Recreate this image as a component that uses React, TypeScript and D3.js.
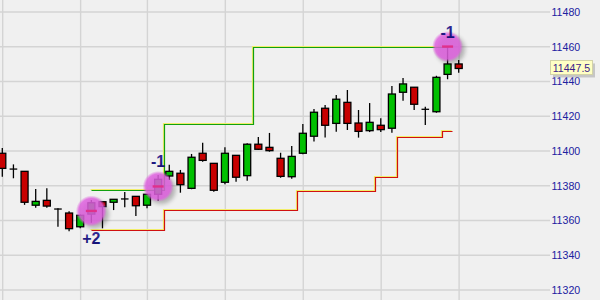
import React from 'react';
import * as d3 from 'd3';

// OHLC bars, oldest first
const opens = [
  11398.7, 11389.6, 11388.3, 11368.8, 11371.6, 11366.6, 11364.3, 11356.4, 11363.7, 11370.8,
  11370.5, 11372.4, 11373.9, 11368.8, 11375.1, 11385.6, 11387.2, 11378.5, 11398.7, 11392.9,
  11382.0, 11397.5, 11385.8, 11403.9, 11402.1, 11395.8, 11385.2, 11398.7, 11408.5, 11424.6,
  11415.9, 11428.0, 11416.1, 11411.7, 11414.8, 11413.1, 11433.8, 11436.7, 11424.0, 11422.6,
  11444.1, 11450.1,
];
const highs = [
  11401.7, 11392.3, 11388.5, 11378.1, 11378.5, 11367.0, 11365.3, 11363.5, 11371.8, 11371.0,
  11372.2, 11376.4, 11374.0, 11375.1, 11386.2, 11392.1, 11389.1, 11398.3, 11404.8, 11393.0,
  11402.1, 11397.6, 11404.4, 11408.1, 11410.4, 11399.0, 11402.9, 11415.5, 11424.2, 11426.5,
  11432.2, 11435.1, 11423.6, 11427.6, 11418.8, 11437.4, 11442.0, 11436.8, 11425.5, 11443.3,
  11460.4, 11452.4,
];
const lows = [
  11385.2, 11384.3, 11369.0, 11367.4, 11367.4, 11356.4, 11353.8, 11355.5, 11358.7, 11355.5,
  11366.0, 11367.6, 11362.6, 11367.0, 11371.4, 11383.3, 11376.0, 11378.0, 11393.8, 11376.6,
  11380.8, 11382.3, 11382.9, 11400.6, 11399.6, 11384.6, 11384.1, 11398.1, 11405.4, 11407.7,
  11411.1, 11412.1, 11407.7, 11410.9, 11410.9, 11410.5, 11428.9, 11423.6, 11415.0, 11422.0,
  11441.3, 11445.1,
];
const closes = [
  11390.0, 11389.6, 11370.5, 11371.0, 11368.3, 11366.6, 11355.3, 11363.0, 11370.2, 11368.0,
  11372.2, 11372.4, 11368.5, 11375.1, 11383.7, 11388.3, 11380.6, 11396.4, 11394.6, 11377.4,
  11398.7, 11384.9, 11403.9, 11401.0, 11400.2, 11385.4, 11396.9, 11410.2, 11422.3, 11414.8,
  11429.8, 11415.9, 11411.3, 11416.5, 11412.3, 11432.8, 11438.6, 11426.9, 11424.0, 11442.4,
  11450.1, 11447.5,
];

const priceTicks = [11320, 11340, 11360, 11380, 11400, 11420, 11440, 11460, 11480];
const timeGridBars = [0, 7, 13, 20, 27, 34, 41];

// Trailing target and stop levels: [bar position, price]
const targetSteps: [number, number][] = [
  [8, 11377.6], [14.5, 11415.5], [22.5, 11459.9], [40, 11459.9],
];
const stopSteps: [number, number][] = [
  [8, 11354.3], [14.5, 11366.0], [26.5, 11376.7], [33.5, 11385.0],
  [35.5, 11407.8], [39.5, 11411.5], [40.4, 11411.5],
];

// Executions
const tradeBars = [8, 14, 40];
const tradePrices = [11365.5, 11379.6, 11460.1];
const tradeLabels = ['+2', '-1', '-1'];
const tradeSides = ['below', 'above', 'above'];

const lastPrice = 11447.5;

const W = 600;
const H = 300;
const UP = '#00c000';
const DOWN = '#c80000';
const FONT = '"Liberation Sans", Arial, sans-serif';

export default function App() {
  const x = d3.scaleLinear().domain([0, 41]).range([2.3, 458.7]);
  const y = d3.scaleLinear().domain([11320, 11480]).range([290, 12]);
  const crisp = (v: number) => Math.round(v) + 0.5;

  const stepLine = d3
    .line<[number, number]>()
    .x((d) => crisp(x(d[0])))
    .y((d) => crisp(y(d[1])))
    .curve(d3.curveStepAfter);

  const bodyW = 7;

  return (
    <svg
      width={W}
      height={H}
      viewBox={`0 0 ${W} ${H}`}
      style={{ position: 'absolute', left: 0, top: 0, display: 'block' }}
    >
      <defs>
        <radialGradient id="markerFill">
          <stop offset="0%" stopColor="#e060e0" stopOpacity={0.86} />
          <stop offset="80%" stopColor="#e060e0" stopOpacity={0.84} />
          <stop offset="100%" stopColor="#e060e0" stopOpacity={0} />
        </radialGradient>
        <filter id="markerShadow" x="-50%" y="-50%" width="200%" height="200%">
          <feGaussianBlur stdDeviation="2" />
        </filter>
        <linearGradient id="labelFill" x1="0" y1="0" x2="0" y2="1">
          <stop offset="0%" stopColor="#3a2a9a" />
          <stop offset="100%" stopColor="#0c0c70" />
        </linearGradient>
        <clipPath id="plotClip">
          <rect x={0} y={0} width={550} height={H} />
        </clipPath>
      </defs>

      <rect x={0} y={0} width={W} height={H} fill="#f0f0f0" />

      {/* grid */}
      <g stroke="#d4d4d4" strokeWidth={1.4}>
        {priceTicks.map((t) => (
          <line key={`h${t}`} x1={0} x2={550} y1={y(t)} y2={y(t)} />
        ))}
        {timeGridBars.map((b) => (
          <line key={`v${b}`} x1={x(b) + 0.4} x2={x(b) + 0.4} y1={0} y2={H} />
        ))}
      </g>

      {/* price axis labels */}
      <g fontFamily={FONT} fontSize={10.6} fill="#2020a0">
        {priceTicks.map((t) => (
          <text key={`l${t}`} x={551.5} y={y(t)} dy="0.36em">
            {t}
          </text>
        ))}
      </g>

      <g clipPath="url(#plotClip)">
        {/* target and stop lines, each with a pale highlight */}
        {[
          { pts: targetSteps, color: '#10a010' },
          { pts: stopSteps, color: '#d01010' },
        ].map((s, i) => (
          <g key={`s${i}`} fill="none">
            <path d={stepLine(s.pts) ?? ''} stroke="#f2ee6a" strokeWidth={1.2} transform="translate(-1,-1)" />
            <path d={stepLine(s.pts) ?? ''} stroke={s.color} strokeWidth={1.2} />
          </g>
        ))}

        {/* candles */}
        {opens.map((o, i) => {
          const c = closes[i];
          const cx = x(i);
          const wick = (
            <line
              x1={cx}
              x2={cx}
              y1={y(highs[i])}
              y2={y(lows[i])}
              stroke="#000"
              strokeWidth={1.3}
            />
          );
          if (o === c) {
            return (
              <g key={`c${i}`}>
                {wick}
                <line x1={cx - 3.8} x2={cx + 3.8} y1={y(o)} y2={y(o)} stroke="#000" strokeWidth={1.3} />
              </g>
            );
          }
          const top = y(Math.max(o, c));
          const bot = y(Math.min(o, c));
          return (
            <g key={`c${i}`}>
              {wick}
              <rect
                x={cx - bodyW / 2}
                y={top}
                width={bodyW}
                height={Math.max(bot - top, 1)}
                fill={c > o ? UP : DOWN}
                stroke="#000"
                strokeWidth={1.3}
              />
            </g>
          );
        })}

        {/* executions */}
        {tradeBars.map((b, k) => {
          const cx = x(b);
          const cy = y(tradePrices[k]);
          const labelY =
            tradeSides[k] === 'above' ? y(highs[b]) - 8 : y(lows[b]) + 21;
          return (
            <g key={`t${k}`}>
              <circle cx={cx + 3} cy={cy + 3} r={14.5} fill="#000" opacity={0.25} filter="url(#markerShadow)" />
              <circle cx={cx} cy={cy} r={15.5} fill="url(#markerFill)" />
              <line x1={cx - 5.5} x2={cx + 5.5} y1={cy} y2={cy} stroke="#e0308c" strokeWidth={2.4} />
              <text
                x={cx}
                y={labelY}
                textAnchor="middle"
                fontFamily={FONT}
                fontWeight="bold"
                fontSize={16}
                fill="url(#labelFill)"
              >
                {tradeLabels[k]}
              </text>
            </g>
          );
        })}
      </g>

      {/* last price tag */}
      <g>
        <rect x={553} y={y(lastPrice) - 5} width={42} height={14} fill="#b4b4b4" opacity={0.7} />
        <rect
          x={550.5}
          y={Math.round(y(lastPrice)) - 7.5}
          width={42}
          height={14}
          fill="#ffffc4"
          stroke="#d2d2a8"
          strokeWidth={1}
        />
        <text
          x={571.5}
          y={y(lastPrice)}
          dy="0.36em"
          textAnchor="middle"
          fontFamily={FONT}
          fontSize={10.6}
          fill="#3a1c8a"
        >
          {lastPrice.toFixed(1)}
        </text>
      </g>
    </svg>
  );
}
